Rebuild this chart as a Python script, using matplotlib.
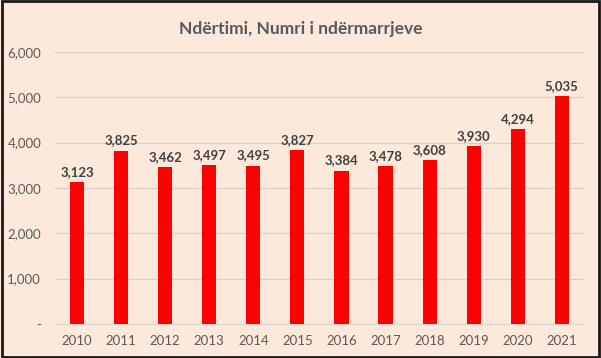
import numpy as np
import matplotlib.pyplot as plt
import matplotlib

matplotlib.rcParams['font.family'] = ['Lato', 'DejaVu Sans']

years = ['2010', '2011', '2012', '2013', '2014', '2015',
         '2016', '2017', '2018', '2019', '2020', '2021']
counts = [3123, 3825, 3462, 3497, 3495, 3827, 3384, 3478, 3608, 3930, 4294, 5035]
yticks = [0, 1000, 2000, 3000, 4000, 5000, 6000]
ytick_labels = ['-', '1,000', '2,000', '3,000', '4,000', '5,000', '6,000']

bg = '#FCE9DC'
fig = plt.figure(figsize=(6.01, 3.58), dpi=100, facecolor=bg)
ax = fig.add_axes([0.0915, 0.095, 0.88, 0.76], facecolor=bg)

x = np.arange(len(years))
ax.bar(x, counts, width=0.32, color='#FF0000', zorder=3)
for xi, v in zip(x, counts):
    ax.text(xi, v + 90, '{:,}'.format(v), ha='center', va='bottom',
            fontsize=9.5, fontweight='bold', color='#404040')

ax.set_xlim(-0.5, len(years) - 0.5)
ax.set_ylim(0, 6000)
ax.set_xticks(x)
ax.set_xticklabels(years)
ax.set_yticks(yticks)
ax.set_yticklabels(ytick_labels)
ax.tick_params(length=0, labelsize=9.5, colors='#595959', pad=8)
ax.tick_params(axis='y', pad=10)
ax.grid(axis='y', color='#D9D2CC', linewidth=1, zorder=0)
for s in ['top', 'right', 'left']:
    ax.spines[s].set_visible(False)
ax.spines['bottom'].set_color('#D9D2CC')

fig.text(0.5, 0.918, 'Ndërtimi, Numri i ndërmarrjeve', ha='center', va='center',
         fontsize=12.5, fontweight='bold', color='#595959')

# dark frame around the image
fig.patches.append(matplotlib.patches.Rectangle((0.003, 0.004), 0.994, 0.992,
                   transform=fig.transFigure, fill=False,
                   edgecolor='#1A1A1A', linewidth=2))

fig.savefig('out.png', dpi=100, facecolor=bg)
